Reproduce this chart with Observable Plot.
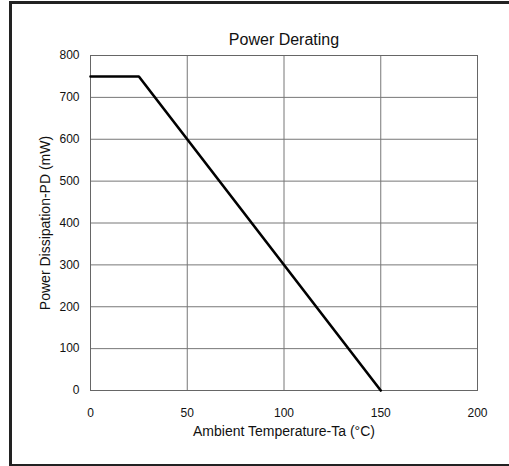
<!DOCTYPE html>
<html>
<head>
<meta charset="utf-8">
<script src="https://cdn.jsdelivr.net/npm/d3@7"></script>
<script src="https://cdn.jsdelivr.net/npm/@observablehq/plot@0.6"></script>
<style>
  html, body { margin: 0; padding: 0; background: #fff; overflow: hidden; }
  #wrap { position: relative; width: 509px; height: 466px; overflow: hidden; }
  #border { position: absolute; left: 9px; top: 1px; width: 600px; height: 460px;
            border-top: 3px solid #222; border-left: 3px solid #222; border-bottom: 3px solid #222; }
  #chart { position: absolute; left: 0; top: 0; }
  svg { font-family: "Liberation Sans", Arial, sans-serif; }
  g[aria-label$="tick label"], g[aria-label$="tick label"] text { font-size: 12px !important; }
</style>
</head>
<body>
<div id="wrap"><div id="border"></div><div id="chart"></div></div>
<script>
const title = "Power Derating";
const xLabel = "Ambient Temperature-Ta (°C)";
const yLabel = "Power Dissipation-PD (mW)";
const xTicks = [0, 50, 100, 150, 200];
const yTicks = [0, 100, 200, 300, 400, 500, 600, 700, 800];
const temperature = [0, 25, 150];
const power = [750, 750, 0];

const data = temperature.map((t, i) => ({t, p: power[i]}));

const chart = Plot.plot({
  width: 509,
  height: 466,
  marginLeft: 90,
  marginRight: 32,
  marginTop: 55,
  marginBottom: 76,
  style: {background: "transparent", fontFamily: "Liberation Sans, Arial, sans-serif", fontSize: "12px", color: "#111"},
  x: {domain: [0, 200], ticks: xTicks, tickSize: 0, tickPadding: 18, label: null},
  y: {domain: [0, 800], ticks: yTicks, tickSize: 0, tickPadding: 11, label: null},
  marks: [
    Plot.gridX(xTicks, {stroke: "#777", strokeOpacity: 1, strokeWidth: 1}),
    Plot.gridY(yTicks, {stroke: "#777", strokeOpacity: 1, strokeWidth: 1}),
    Plot.frame({stroke: "#666", strokeWidth: 1}),
    Plot.axisX({ticks: xTicks, tickSize: 0, tickPadding: 18, fontSize: 12, label: null}),
    Plot.axisY({ticks: yTicks, tickSize: 0, tickPadding: 11, fontSize: 12, label: null}),
    Plot.line(data, {x: "t", y: "p", stroke: "#000", strokeWidth: 2.6, strokeLinejoin: "miter"}),
    Plot.text([title], {frameAnchor: "top", dy: -11, lineAnchor: "bottom", fontSize: 16, fill: "#111"}),
    Plot.text([xLabel], {frameAnchor: "bottom", dy: 41, lineAnchor: "middle", textAnchor: "middle", fontSize: 14, fill: "#111"}),
    Plot.text([yLabel], {frameAnchor: "left", dx: -45, lineAnchor: "middle", textAnchor: "middle", rotate: -90, fontSize: 14, fill: "#111"})
  ]
});
document.getElementById("chart").appendChild(chart);
</script>
</body>
</html>
